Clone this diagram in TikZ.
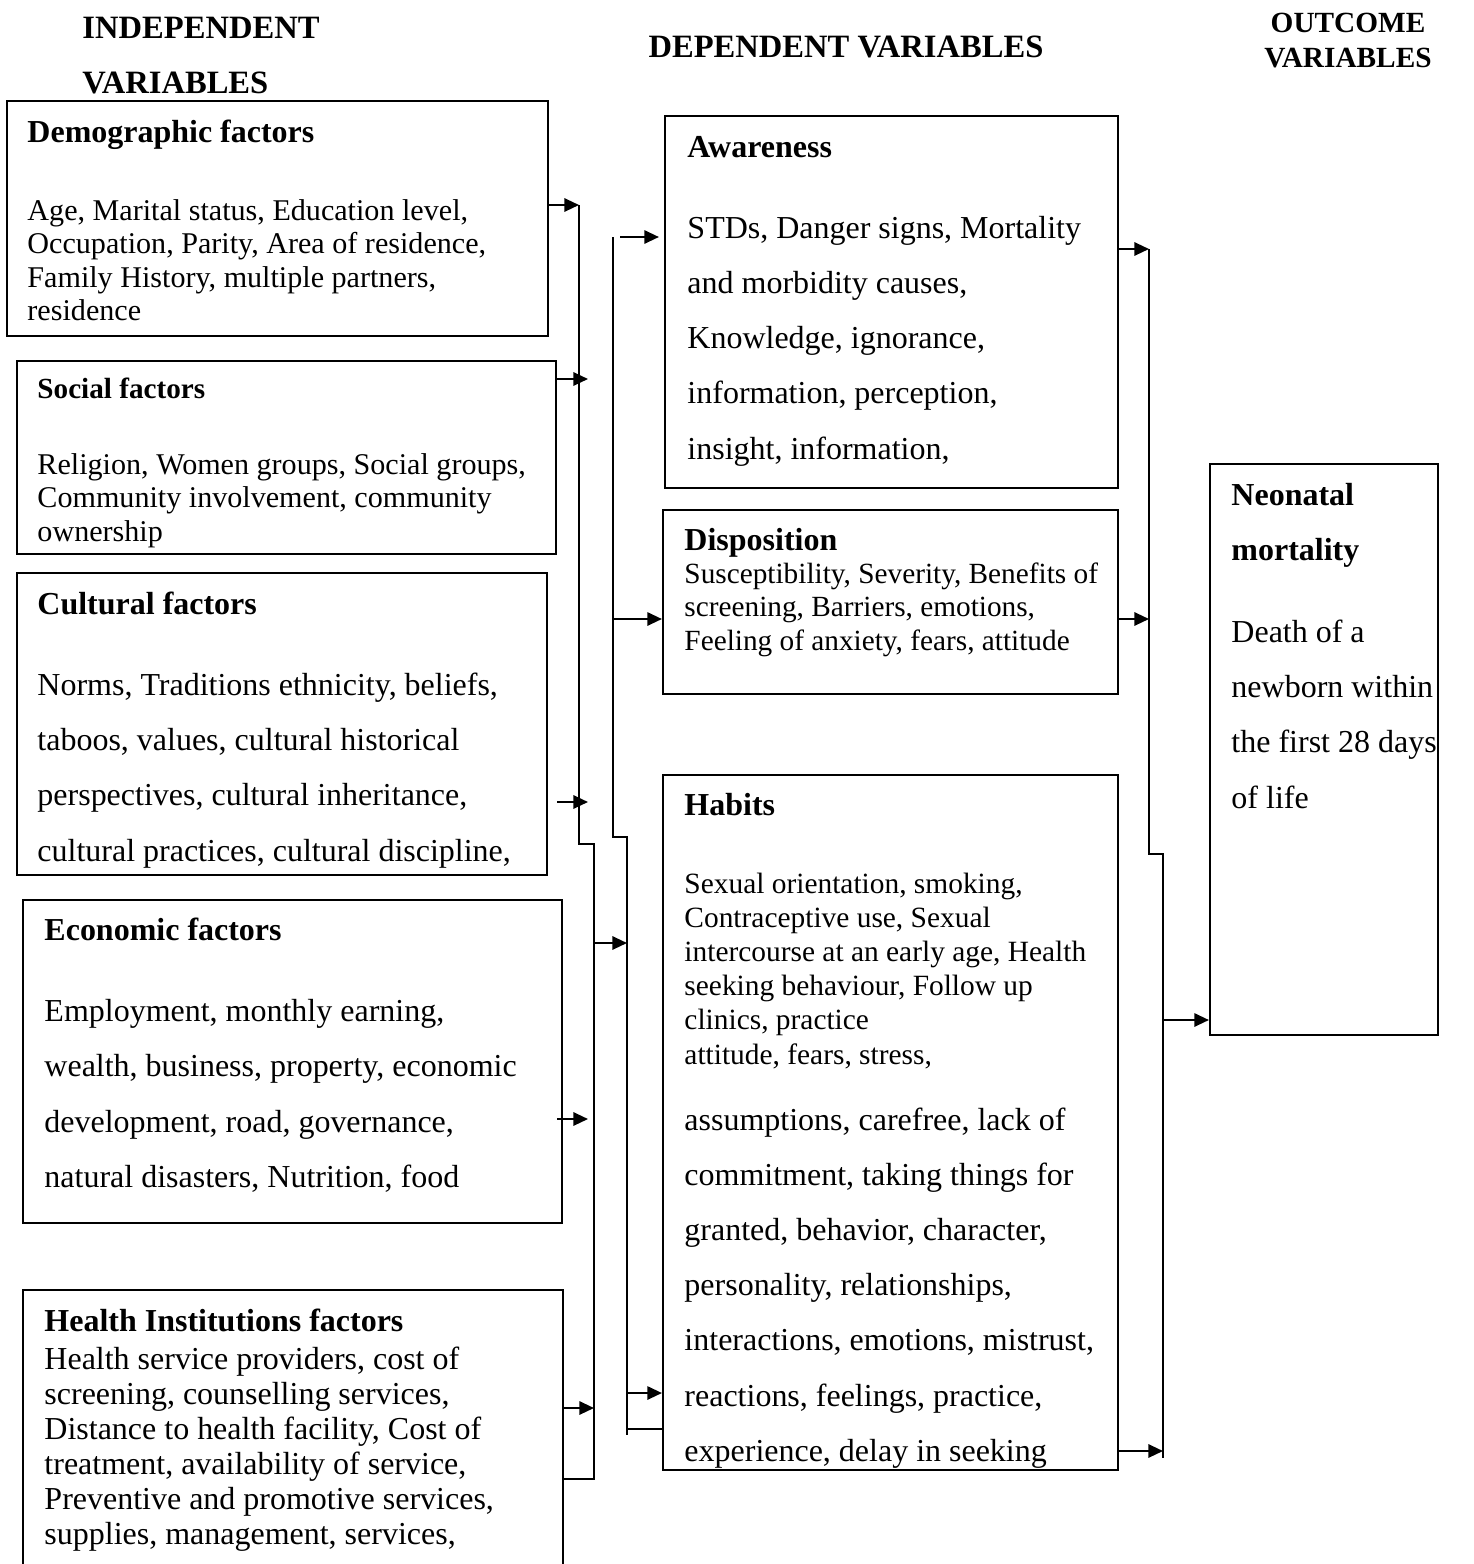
\documentclass[tikz,border=0pt]{standalone}
\usepackage{fontspec}
\setmainfont{Liberation Serif}
\usetikzlibrary{arrows.meta,fit}

\begin{document}
\begin{tikzpicture}[x=0.15mm, y=-0.15mm,
    box/.style={draw, line width=0.9pt, inner sep=0pt},
    txt/.style={anchor=base west, align=left, inner sep=0pt, font=\fontsize{12.85}{14.24}\selectfont},
    big/.style={txt, font=\fontsize{13.65}{23.48}\selectfont},
    ttl/.style={txt, font=\fontsize{13.65}{23.4}\selectfont\bfseries},
    hdr/.style={anchor=base, align=center, inner sep=0pt, font=\fontsize{13.9}{23.4}\selectfont\bfseries},
    arr/.style={-{Triangle[length=2.2mm,width=2mm]}, line width=0.9pt},
    bus/.style={line width=0.9pt}]

    \useasboundingbox (0,0) rectangle (1474,1564);

    % column headings (multi-line nodes sit on their last line)
    \node[txt, font=\fontsize{13.9}{23.4}\selectfont\bfseries] (hind) at (82,93) {INDEPENDENT\\VARIABLES};
    \node[hdr] (hdep) at (846,57) {DEPENDENT VARIABLES};
    \node[hdr, font=\fontsize{12.5}{14.9}\selectfont\bfseries] (hout) at (1348,67) {OUTCOME\\VARIABLES};

    % independent variables
    \node[box, fit={(7,101) (548,336)}] (demo) {};
    \node[ttl] (demot) at (27,142) {Demographic factors};
    \node[txt] (demob) at (27,320.5) {Age, Marital status, Education level,\\Occupation, Parity, Area of residence,\\Family History, multiple partners,\\residence};

    \node[box, fit={(17,361) (556,554)}] (soc) {};
    \node[txt, font=\fontsize{12.45}{14.24}\selectfont\bfseries] (soct) at (37,398) {Social factors};
    \begin{scope}
        \clip (soc.south west) rectangle (soc.north east);
        \node[txt] (socb) at (37,541) {Religion, Women groups, Social groups,\\Community involvement, community\\ownership};
    \end{scope}

    \node[box, fit={(17,573) (547,875)}] (cul) {};
    \node[ttl] (cult) at (37,614) {Cultural factors};
    \begin{scope}
        \clip (cul.south west) rectangle (cul.north east);
        \node[big] (culb) at (37,861) {Norms, Traditions ethnicity, beliefs,\\taboos, values, cultural historical\\perspectives, cultural inheritance,\\cultural practices, cultural discipline,};
    \end{scope}

    \node[box, fit={(23,900) (562,1223)}] (eco) {};
    \node[ttl] (ecot) at (44,940) {Economic factors};
    \node[big] (ecob) at (44,1187) {Employment, monthly earning,\\wealth, business, property, economic\\development, road, governance,\\natural disasters, Nutrition, food};

    \node[box, fit={(23,1290) (563,1620)}] (hea) {};
    \node[ttl] (heat) at (44,1331) {Health Institutions factors};
    \node[txt, font=\fontsize{13.65}{14.88}\selectfont] (heab) at (44,1544) {Health service providers, cost of\\screening, counselling services,\\Distance to health facility, Cost of\\treatment, availability of service,\\Preventive and promotive services,\\supplies, management, services,};

    % dependent variables
    \node[box, fit={(665,116) (1118,488)}] (aw) {};
    \node[ttl] (awt) at (687,157) {Awareness};
    \node[big] (awb) at (687,459) {STDs, Danger signs, Mortality\\and morbidity causes,\\Knowledge, ignorance,\\information, perception,\\insight, information,};

    \node[box, fit={(663,510) (1118,694)}] (disp) {};
    \node[ttl] (dispt) at (684,550) {Disposition};
    \node[txt, font=\fontsize{12.5}{14.24}\selectfont] (dispb) at (684,650) {Susceptibility, Severity, Benefits of\\screening, Barriers, emotions,\\Feeling of anxiety, fears, attitude};

    \node[box, fit={(663,775) (1118,1470)}] (hab) {};
    \node[ttl] (habt) at (684,815) {Habits};
    \node[txt, font=\fontsize{12.55}{14.58}\selectfont] (haba) at (684,1064) {Sexual orientation, smoking,\\Contraceptive use, Sexual\\intercourse at an early age, Health\\seeking behaviour, Follow up\\clinics, practice\\attitude, fears, stress,};
    \begin{scope}
        \clip (hab.south west) rectangle (hab.north east);
        \node[big] (habb) at (684,1461) {assumptions, carefree, lack of\\commitment, taking things for\\granted, behavior, character,\\personality, relationships,\\interactions, emotions, mistrust,\\reactions, feelings, practice,\\experience, delay in seeking};
    \end{scope}

    % outcome variable
    \node[box, fit={(1210,464) (1438,1035)}] (neo) {};
    \node[ttl] (neot) at (1231,560) {Neonatal\\mortality};
    \node[big] (neob) at (1231,808) {Death of a\\newborn within\\the first 28 days\\of life};

    % bus lines
    \coordinate (b1a) at (579,205);
    \coordinate (b1b) at (579,844);
    \coordinate (b1c) at (594,844);
    \coordinate (b1d) at (594,1479);
    \coordinate (b2a) at (613,237);
    \coordinate (b2b) at (613,837);
    \coordinate (b2c) at (627,837);
    \coordinate (b2d) at (627,1435);
    \coordinate (b3a) at (1149,249);
    \coordinate (b3b) at (1149,854);
    \coordinate (b3c) at (1163,854);
    \coordinate (b3d) at (1163,1458);
    \draw[bus] (b1a) -- (b1b) -- (b1c) -- (b1d) -- (hea.east |- b1d);
    \draw[bus] (b2a) -- (b2b) -- (b2c) -- (b2d);
    \draw[bus] (b3a) -- (b3b) -- (b3c) -- (b3d);

    % arrows into the first bus
    \coordinate (s1) at (588,379);
    \coordinate (s2) at (588,802);
    \coordinate (s3) at (588,1119);
    \coordinate (s4) at (594,1408);
    \draw[arr] (demo.east |- b1a) -- (b1a);
    \draw[arr] (soc.east |- s1) -- (s1);
    \draw[arr] ([xshift=1.35mm]cul.east |- s2) -- (s2);
    \draw[arr] ([xshift=-0.9mm]eco.east |- s3) -- (s3);
    \draw[arr] (hea.east |- s4) -- (s4);

    % arrows into the dependent variables
    \coordinate (m1) at (613,619);
    \coordinate (m2) at (594,943);
    \coordinate (m3) at (627,943);
    \coordinate (m4) at (627,1393);
    \coordinate (m5) at (627,1429);
    \draw[arr] ([xshift=1.05mm]b2a) -- ([xshift=-0.75mm]aw.west |- b2a);
    \draw[arr] (m1) -- (disp.west |- m1);
    \draw[arr] (m2) -- (m3);
    \draw[arr] (m4) -- (hab.west |- m4);
    \draw[bus] (m5) -- (hab.west |- m5);

    % arrows into the outcome
    \coordinate (o1) at (1149,619);
    \coordinate (o2) at (1163,1020);
    \coordinate (o3) at (1163,1451);
    \draw[arr] (aw.east |- b3a) -- (b3a);
    \draw[arr] (disp.east |- o1) -- (o1);
    \draw[arr] (o2) -- (neo.west |- o2);
    \draw[arr] (hab.east |- o3) -- (o3);

\end{tikzpicture}
\end{document}
